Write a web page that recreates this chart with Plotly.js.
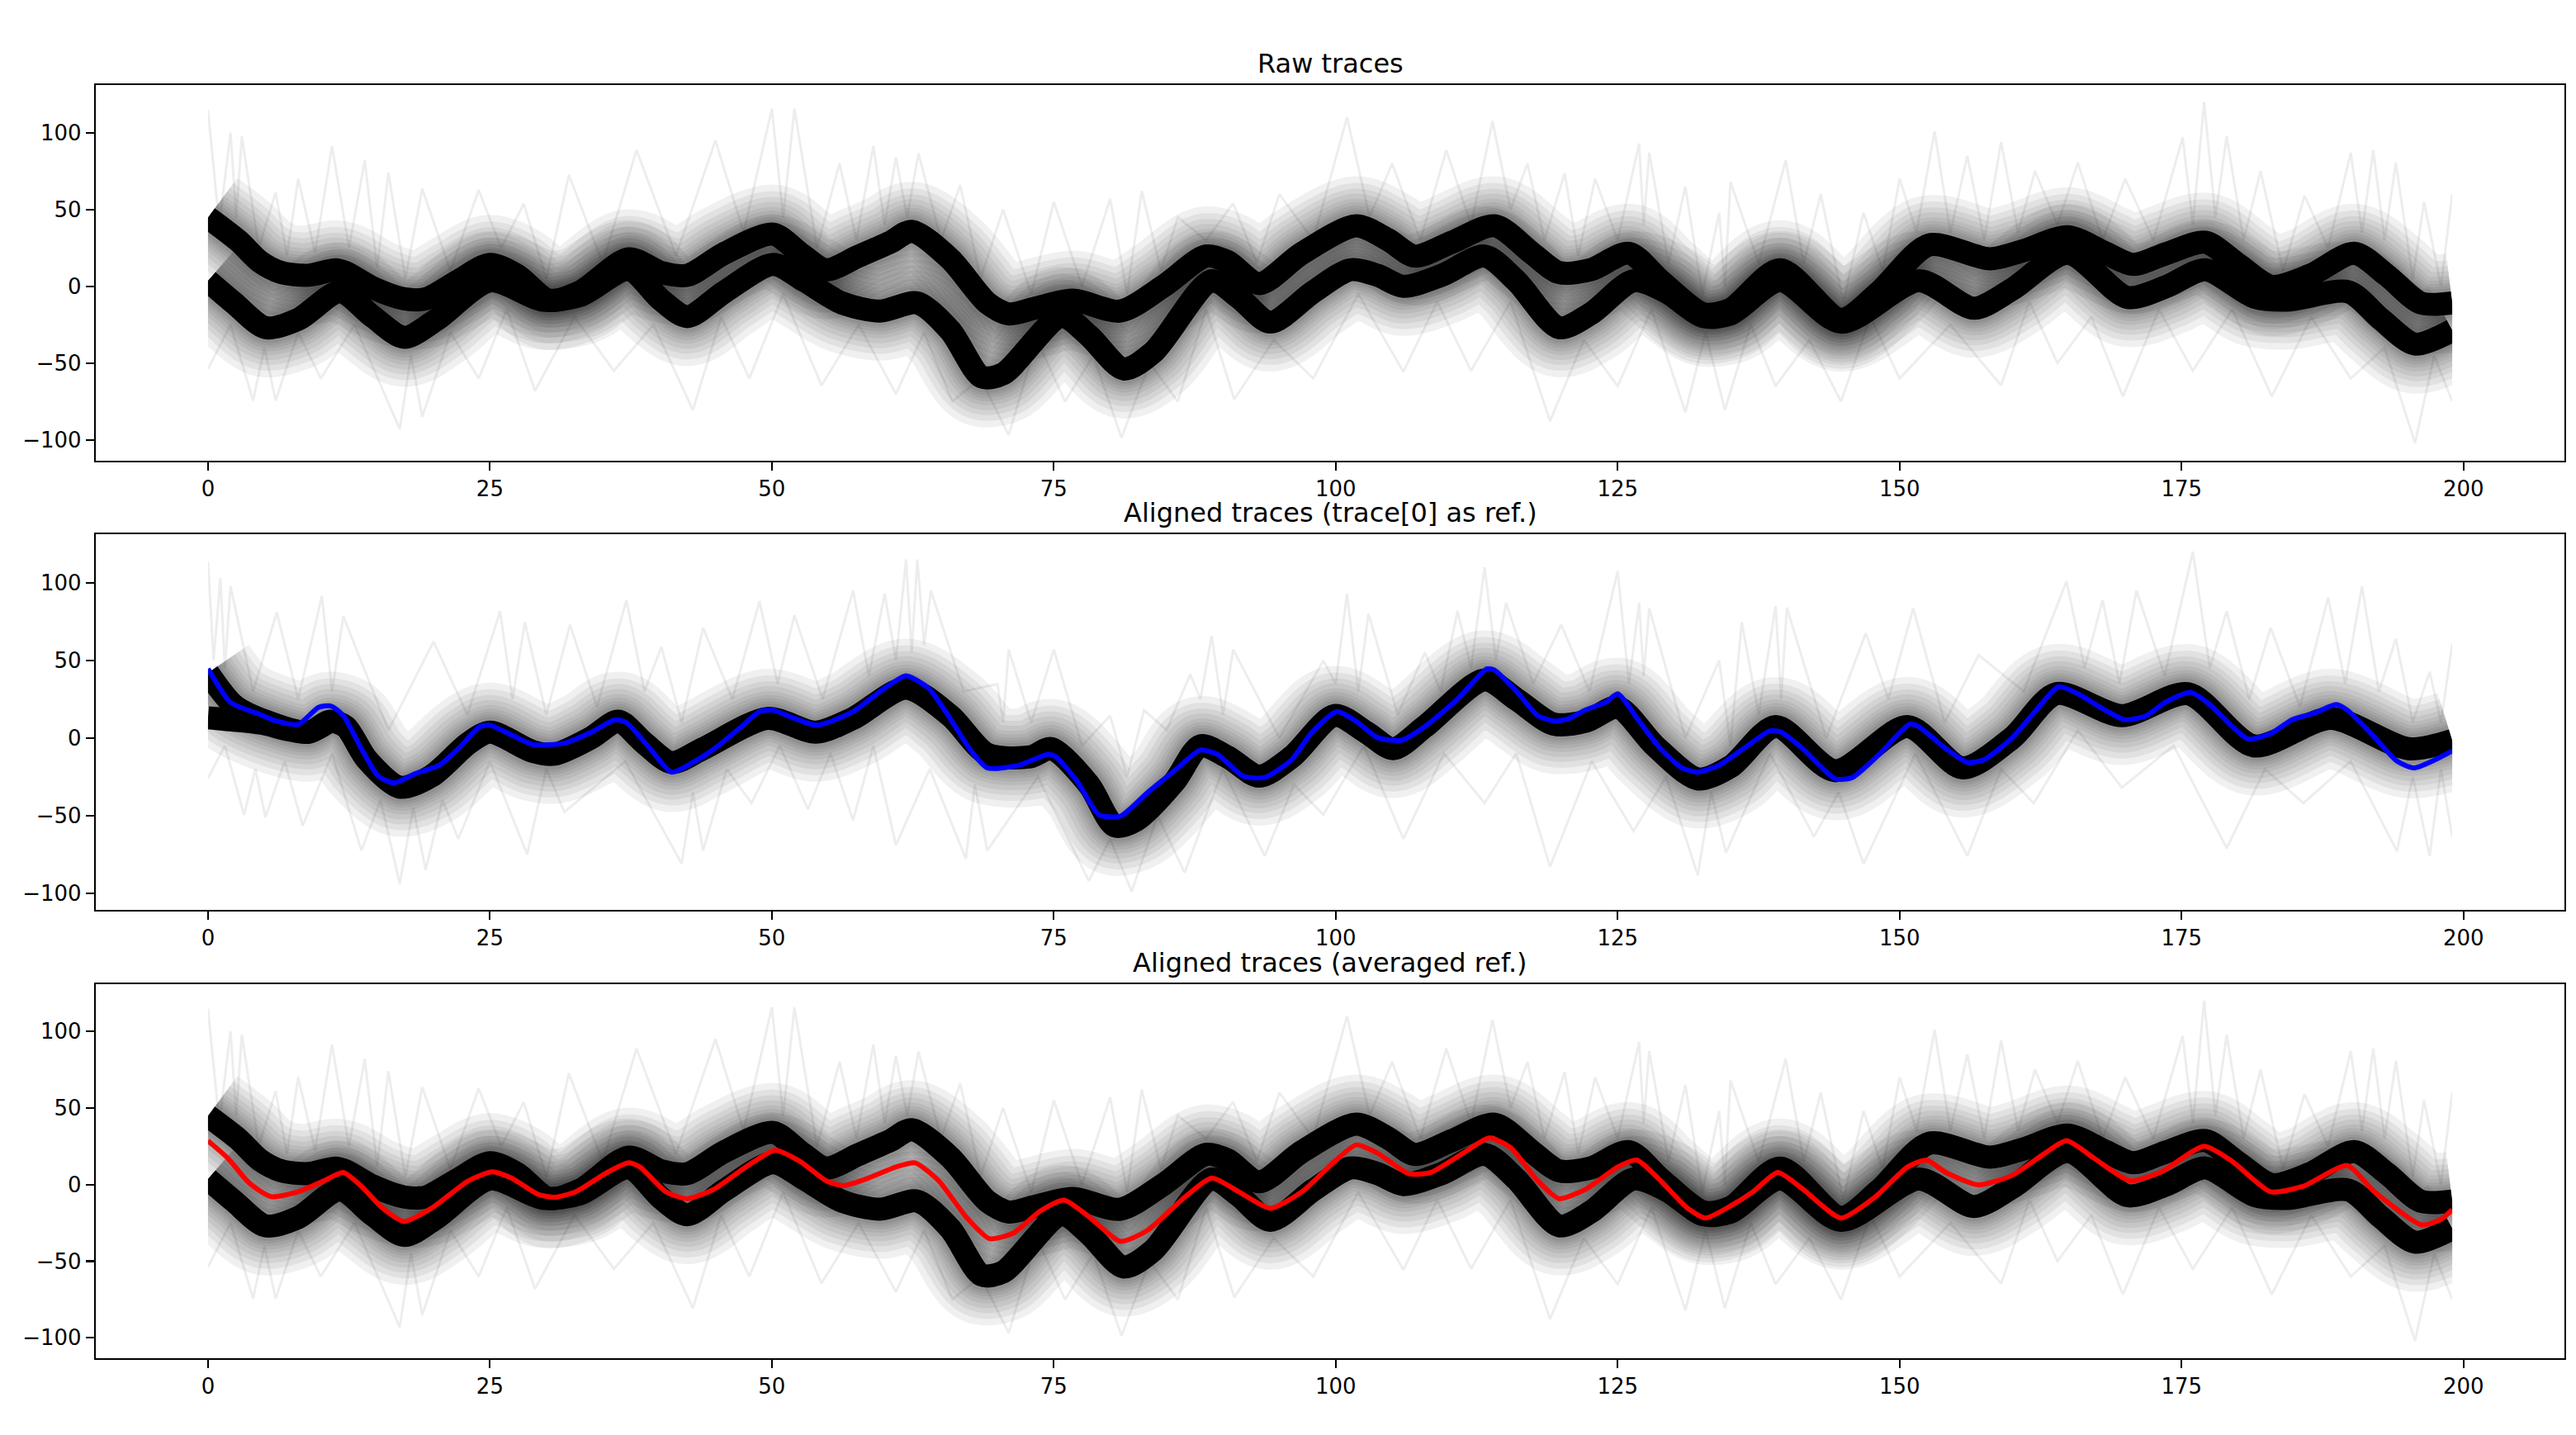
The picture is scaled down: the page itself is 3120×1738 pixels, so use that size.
<!DOCTYPE html>
<html>
<head>
<meta charset="utf-8">
<script src="https://cdn.plot.ly/plotly-3.0.1.min.js"></script>
<style>html,body{margin:0;padding:0;background:#fff}#plot{width:3120px;height:1738px}</style>
</head>
<body>
<div id="plot"></div>
<script>
// ---------- data ----------
const xTicks = [0, 25, 50, 75, 100, 125, 150, 175, 200];
const yTicks = [-100, -50, 0, 50, 100];
const panelTitles = ["Raw traces", "Aligned traces (trace[0] as ref.)", "Aligned traces (averaged ref.)"];

// upper cluster band (raw / averaged-ref panels)
const upperX = [0,2.7,4.6,6.5,8.9,11.3,12.2,14.6,17.4,19.3,22.2,25,27.4,30.2,33,37.3,40.2,42.5,45.8,50.1,52.5,54.8,57.7,60.5,62.4,65.8,69.1,71,73.3,76.7,80.9,84.7,88.5,90.4,93.2,97,101.8,104.6,107,110.3,114.1,117.4,119.8,122.6,126,128.8,132.6,135,139.4,144.8,148.2,152.6,158,161,164.9,168.3,170.7,173.7,177.1,180,183,186.4,190.3,193.2,196.2,199];
const upperY = [44.8,29.6,16.1,9.0,7.2,10.8,9,-0.9,-8.1,-8.1,3.6,14.3,7.2,-9,-3.6,17.9,9,7.2,21.5,34,21.5,10.8,19.7,28.7,35.8,17.9,-10.8,-17.9,-14.3,-9,-16.1,0,19.7,16.1,1.8,21.5,39.4,30.5,19.7,28.7,39.4,21.5,9,10.8,21.5,3.6,-17.9,-15,10.8,-21.5,-3.6,26.9,17.9,23.3,32.3,21.5,14.3,21.5,28.7,14.3,0,7.2,21.5,7.2,-10.8,-10.8];

// lower cluster band (raw / averaged-ref panels)
const lowerX = [0,2.3,5.1,8,11.7,14.6,17.4,20.3,25,29.7,33,37.3,40.2,42.5,45.8,50.1,52.9,56.2,59.6,62.9,65.8,68.6,70.5,75.7,78.1,81.2,83.8,89,91.4,94.2,98,101.3,103.7,106,109.4,113.2,116,119.8,122.6,126.4,129.3,132.6,135,139.4,144.8,151.7,156.6,160,164.9,170.2,173.7,177.1,181.5,184.4,189.8,192.7,195.7,199];
const lowerY = [3.6,-10.8,-26.9,-21.5,-3.6,-19.7,-33.2,-21.5,3.6,-9,-6,10.8,-9,-19.7,-3.6,14.3,3.6,-10.8,-16.1,-10.8,-28.7,-59,-57,-19.7,-32,-53.8,-43,3.6,-7.2,-23.3,-3.6,10.8,7.2,0,7.2,19.7,3.6,-26.9,-17.9,3.6,-3.6,-19.7,-18,3.6,-23.3,3.6,-14.3,-1.8,21.5,-7.2,0,10.8,-7.2,-9,-3.6,-21.5,-37.6,-28.7];

// aligned band (trace[0] as ref. panel)
const alignedX = [0,2.3,5.1,8.9,10.8,12.2,14.1,17,19.8,23.1,25,28.8,30.7,34,36.4,38.7,41.1,43.9,49.6,53.9,57.2,61.9,65.8,69.1,72.9,74.8,78.1,80.4,82.3,85.7,88,90.4,93.2,96.1,99.9,102.7,105.1,107.9,113.2,116,119.3,122.2,125,128.3,132.1,135,139,144.3,150.7,155.6,160,163.9,169.7,175.6,181.4,188.2,195.1,199];
const alignedY = [42,21,10.8,3.7,10.8,7.3,-14,-31.7,-24.6,-3.4,3.7,-8.7,-10.5,0.2,10.8,-3.4,-15.8,-6.9,12.6,3.7,12.6,32.1,14.4,-10.5,-12.2,-6.9,-30,-56.6,-53,-28.2,-5.1,-12.2,-24.6,-12.2,14.4,3.7,-6.9,7.3,37.4,25,9,10.8,19.7,-5.1,-26.4,-18.5,7.3,-21.1,7.3,-19.3,0.2,28.5,14.4,28.5,-5.1,12.6,-6.9,-1.6];
// second bundle visible only at the very start of the aligned panel, merging into the main band
const alignedStartX = [0, 1.5, 3, 5.1, 7, 8.9, 10.8];
const alignedStartY = [13, 12, 11, 9, 5.5, 3.7, 10.8];

// blue reference trace[0]
const refX = [0,2,4.6,6.1,8,9.8,10.9,12,13.6,15.1,16.5,18.4,20.5,22.2,24.1,25,26.9,28.8,31.6,34,36.1,37.1,39.2,41.1,43,44.9,47.3,48.9,50.1,52,53.9,55.3,57.2,60,61.9,63.9,65.8,67.7,69.1,71.9,74.5,75.2,77.1,79,80.9,83.3,85.7,88,89.5,91.8,93.7,96.1,97.9,100.1,101.8,103.7,105.8,107.9,110.8,113.4,114.1,116,117.9,119.5,120.7,122.1,124,125,126.9,128.8,130.7,132.1,134,136.5,138.5,139.5,141.4,144.3,145.8,148.2,150.9,151.7,154.1,156,157.5,160,161.9,164.1,165.8,167.8,170,171.9,173.6,175.8,177.5,179.5,180.9,182.9,184.8,186.8,188.7,189.7,191.7,194.1,195.6,197.5,199];
const refY = [44.5,22.9,15.2,10.8,8.7,19.7,20.6,14.4,-6.9,-24.6,-29,-22.9,-17.6,-6.9,7.3,8.2,2,-4.3,-3.4,3.7,11.7,9.9,-6.9,-22,-15.8,-6.9,7.3,17,17.9,12.6,8.2,10.8,17,32.1,40.1,32,12.6,-8.7,-19.3,-17.6,-10.5,-12.2,-28.2,-49.5,-50.4,-35.3,-21.1,-7.8,-10.5,-24.6,-25.5,-14,3.7,17,10.8,0.2,-1.6,7.3,25,44.5,43.6,30.3,14.4,10.8,12.6,17.9,23.2,28.5,10.8,-6.9,-19.3,-22,-17.6,-5.1,4.6,3.7,-6.9,-26.4,-25.5,-10.5,9,7.3,-6.9,-15.8,-14,0.2,16.1,33,28.5,19.7,11.7,14.4,23.2,29.4,21.5,7.3,-0.7,2.8,11.7,16.1,21.5,17.9,3.7,-14.9,-19.3,-14,-8.3];

// red averaged reference
const avgX = [0,1.8,3.7,5.6,8,10.3,12,13.6,15.5,17.4,19.8,23.1,25.2,26.9,29.3,30.7,32.6,35.4,37.3,38.3,40.6,42.5,44.9,47.7,50.3,52.5,54.8,56.3,58.6,61,62.7,64.8,67.2,69.3,71.4,73.8,75.9,78.1,80.9,83.3,86.6,89,91.4,94.2,97,99.9,101.8,103.7,106.5,108.4,111.3,113.6,115.5,117.9,119.8,122.2,125,126.7,128.8,131.2,132.8,135,137,139.2,141.4,144.8,147.8,150.7,152.4,154.1,157,160,162.9,164.8,167.3,170.4,173.1,177,179.5,182.9,185.8,189.7,192.1,196.3,198,199];
const avgY = [28.6,16.9,0.7,-7.9,-4.7,2.5,7.9,-1.1,-15.5,-24.1,-15.5,2.5,8.3,4.3,-6.5,-8.3,-4.7,7.9,14.2,11.5,-4.7,-9.2,-2.9,11.5,22.3,15.1,2.5,-0.7,4.3,11.5,14.2,2.5,-20.9,-35.3,-31.7,-17.3,-10.1,-20.9,-37.1,-29.9,-8.3,4.3,-4.7,-15.5,-4.7,15.1,25.9,20.5,7,7.9,20.5,30.4,24.1,2.5,-9.2,-2.9,11.5,16,2.5,-15.5,-21.8,-14,-4.7,7.9,-2.9,-21.8,-8.3,11.5,16,7.9,-0.2,6.1,20.5,28.6,16.9,2.5,7.9,25,15.1,-4.7,-1.1,12.4,-4.7,-26.3,-22.7,-16.4];

// faint noisy outliers, raw / averaged-ref panels: spike tips and the dips between them
const rawUpTipX = [0,2,3,6,8,11,13.9,16,19,24,28,32,38,45,50,52,56,59,61,63,66.7,70.5,75,80,82.8,86,90.9,95,101,105,109.8,113.9,117,120.3,123,126.9,127.8,131,134,135,139.9,143,146.8,150,153.1,156,159,162,165.8,170,175.1,177,179,182,185.9,190,192,194,196.5,199];
const rawUpTipY = [114.7,100,97.7,61,70,91.4,82,74,63.6,62.7,53.8,72.6,88.7,95,115.6,115.6,80,91.4,84,86.7,66,50,55,57,62,45,54,60,110,80,88.7,107.5,80,73.5,70,93,87,65,48,68,82,60,48,70,101,85,94,75,80.6,70,97,120,97.7,75,59,87,88.7,80.6,55,60];
const rawUpDipX = [1,2.5,4.5,7,9.5,12.5,15,17.5,21.5,26,30,35,41.5,47.5,51,54,57.5,60,62,65,68.5,73,77.5,81.5,84.5,88.5,93,98,103,107.5,112,115.5,118.5,121.5,125,127.3,129.5,132.5,134.5,137.5,141.5,145,148.5,151.5,154.5,157.5,160.5,164,168,172.5,176,178,180.5,184,188,191,193,195.5,198];
const rawUpDipY = [40,45,25,20,22,25,12,5,10,25,5,15,20,35,45,25,30,40,45,30,5,-5,0,-5,10,30,15,30,45,30,40,50,30,20,30,40,15,-5,0,15,15,-10,10,35,35,30,35,40,30,30,40,45,30,10,25,35,30,5,0];
const rawLoTipX = [0,4,6,10,17,19,24,29,36,43,48,54.4,61,66,71,76,81,86,91,98,106,112,119,125,131,134.5,139,144.8,150,159,164,169.8,176,183,190,195.7,199];
const rawLoTipY = [-53.8,-74.4,-74.4,-60,-93,-85,-60,-68,-55,-80.6,-60,-64.5,-70,-75,-96.8,-75,-98.6,-75,-73.5,-60,-55.6,-55,-87.8,-65,-82,-80.6,-65,-75,-60,-64.5,-50,-71.7,-55,-71.7,-60,-102,-75];
const rawLoDipX = [2,5,8,13,18,21.5,26.5,32.5,39.5,45.5,51,57.7,63.5,68.5,73.5,78.5,83.5,88.5,94.5,102,109,115.5,122,128,132.8,136.8,142,147.4,154.5,161.5,167,173,179.5,186.5,193,197.4];
const rawLoDipY = [-25,-40,-30,-25,-45,-30,-15,-20,-25,-20,-5,-25,-30,-60,-35,-45,-50,-15,-35,-5,-10,-10,-35,-15,-30,-25,-35,-20,-25,-10,-20,-15,-15,-20,-40,-45];

// faint noisy outliers, trace[0]-ref panel
const alUpTipX = [0,1.1,2,6.1,10.1,12,20,25.9,28.1,32.1,37.1,40.2,43.9,48.9,52,57.2,60,61.9,62.9,64.1,70,71,75,80,83,87.1,89,90.9,98.9,101,102.9,107.9,110.8,113.2,115.1,120,125,126.9,127.8,134,136,139,140,147,151.2,157,164.8,168,171,176,179,182.9,188,191,194,197,199];
const alUpTipY = [113.7,103,97.7,80.9,91.5,78.4,62,81.7,74.6,72.9,88.8,58.7,71,88,79,95,93,115,115,95,34.7,57,57,14.4,17.9,41,65.8,57,49.8,93,80,55,81.7,110,87,72.9,107.4,87,83.5,50,74.6,85,84,67.5,83.5,53.4,101,88.8,95,120,81.7,71,90.6,97.7,64,42.7,60.5];
const alUpDipX = [0.5,1.5,4,8,11,16,23,27,30,34.5,38.7,42,46.5,50.5,54.5,58.6,61,62.4,63.5,67,70.5,73,77.5,81.5,85,88,90,95,100,102,105.5,109.3,112,114.2,117.5,122.5,126,127.3,131,135,137.5,139.5,143.5,149,154,161,166.4,169.5,173.5,177.5,181,185.5,189.5,192.5,195.5,198];
const alUpDipY = [50,45,30,25,30,5,15,25,15,20,30,10,25,35,25,40,50,55,60,30,10,10,-5,-25,5,25,15,0,35,30,15,30,45,50,35,30,35,40,0,-5,15,25,0,25,10,30,45,35,40,45,25,20,35,30,10,10];
const alLoTipX = [0,3.2,5.1,8.4,13.6,17,19.3,22.2,28.3,31.6,42,43.9,48.2,53.2,57.2,61,67.2,69.1,78.1,81.9,86.6,93.7,98.9,106,113.2,119,126.4,132.1,134.6,142.4,146.8,156,161.9,169.7,179,185.8,194.1,197,199];
const alLoTipY = [-26,-49.5,-51,-56.6,-72.5,-93.8,-85,-65,-75,-47.7,-81,-72.5,-42,-46,-53,-69,-77.8,-72.5,-92,-99,-86.7,-76,-49.5,-65,-42,-83,-60,-88.5,-74,-63.6,-81,-76,-42,-32,-71,-42,-73,-76,-63.6];
const alLoDipX = [1.5,4.2,6.8,11,15.3,18.2,20.8,25,30,37,43,46,50.7,55.2,59,64,68,73.6,80,84.2,90,96.3,102.5,109.6,116,122.7,129.3,133.3,138.5,144.6,151.4,159,165.8,174.3,182.4,190,195.5,198];
const alLoDipY = [-5,-20,-15,-10,-40,-45,-40,-15,-20,-15,-35,-20,-5,-10,-5,-20,-30,-25,-65,-50,-20,-30,-5,-10,-10,-15,-25,-35,-10,-35,-10,-20,5,-5,-20,-15,-25,-20];

// ---------- drawing ----------
const FONT = "DejaVu Sans";
const traces = [];
function merge(ax, ay, bx, by) {
  const pts = ax.map(function (v, i) { return [v, ay[i]]; })
    .concat(bx.map(function (v, i) { return [v, by[i]]; }));
  pts.sort(function (p, q) { return p[0] - q[0]; });
  return [pts.map(function (p) { return p[0]; }), pts.map(function (p) { return p[1]; })];
}
function faint(m, xa, ya) {
  traces.push({x: m[0], y: m[1], xaxis: xa, yaxis: ya, type: "scatter", mode: "lines",
    line: {color: "rgba(0,0,0,0.07)", width: 3, shape: "linear"}, hoverinfo: "skip", showlegend: false});
}
function band(x, y, xa, ya, halo) {
  const widths = halo ? [120, 104, 90, 78, 66, 57, 49, 42, 36] : [];
  widths.forEach(function (w) {
    traces.push({x: x, y: y, xaxis: xa, yaxis: ya, type: "scatter", mode: "lines",
      line: {color: "rgba(0,0,0,0.06)", width: w, shape: "spline", smoothing: 0.8},
      hoverinfo: "skip", showlegend: false});
  });
  traces.push({x: x, y: y, xaxis: xa, yaxis: ya, type: "scatter", mode: "lines",
    line: {color: "rgba(0,0,0,1)", width: 28, shape: "spline", smoothing: 0.8},
    hoverinfo: "skip", showlegend: false});
}
function line(x, y, xa, ya, color) {
  traces.push({x: x, y: y, xaxis: xa, yaxis: ya, type: "scatter", mode: "lines",
    line: {color: color, width: 6, shape: "spline", smoothing: 0.6}, hoverinfo: "skip", showlegend: false});
}

const rawUp = merge(rawUpTipX, rawUpTipY, rawUpDipX, rawUpDipY);
const rawLo = merge(rawLoTipX, rawLoTipY, rawLoDipX, rawLoDipY);
const alUp = merge(alUpTipX, alUpTipY, alUpDipX, alUpDipY);
const alLo = merge(alLoTipX, alLoTipY, alLoDipX, alLoDipY);

// panel 1: raw
faint(rawUp, "x", "y"); faint(rawLo, "x", "y");
band(upperX, upperY, "x", "y", true); band(lowerX, lowerY, "x", "y", true);
// panel 2: aligned to trace[0]
faint(alUp, "x2", "y2"); faint(alLo, "x2", "y2");
band(alignedX, alignedY, "x2", "y2", true);
band(alignedStartX, alignedStartY, "x2", "y2", false);
line(refX, refY, "x2", "y2", "#0000ff");
// panel 3: aligned to averaged ref
faint(rawUp, "x3", "y3"); faint(rawLo, "x3", "y3");
band(upperX, upperY, "x3", "y3", true); band(lowerX, lowerY, "x3", "y3", true);
line(avgX, avgY, "x3", "y3", "#ff0000");

const W = 3120, H = 1738;
const xRange = [-9.95, 208.95];
const xDom = [116 / W, 3106 / W];
const yDoms = [
  [1 - 557.7 / H, 1 - 103.3 / H],
  [1 - 1101.7 / H, 1 - 647.3 / H],
  [1 - 1645 / H, 1 - 1191.7 / H]
];
const yRanges = [[-113.4, 130.9], [-110.6, 131.1], [-113.3, 130.9]];

function xaxis(anchor) {
  return {domain: xDom, anchor: anchor, range: xRange, tickmode: "array", tickvals: xTicks,
    ticktext: xTicks.map(String), showline: true, linecolor: "black", linewidth: 2.2, mirror: true,
    ticks: "outside", ticklen: 10, tickwidth: 2.2, tickcolor: "black", showgrid: false, zeroline: false,
    tickfont: {family: FONT, size: 26, color: "black"}, fixedrange: true};
}
function yaxis(anchor, i) {
  return {domain: yDoms[i], anchor: anchor, range: yRanges[i], tickmode: "array", tickvals: yTicks,
    ticktext: yTicks.map(function (v) { return v < 0 ? "\u2212" + Math.abs(v) : String(v); }),
    showline: true, linecolor: "black", linewidth: 2.2, mirror: true,
    ticks: "outside", ticklen: 10, tickwidth: 2.2, tickcolor: "black", showgrid: false, zeroline: false,
    tickfont: {family: FONT, size: 26, color: "black"}, fixedrange: true};
}

// white masks that square off the thick line ends at the first / last sample
const shapes = [];
["", "2", "3"].forEach(function (s, i) {
  const yr = yRanges[i];
  [[xRange[0] + 0.15, 0], [199, xRange[1] - 0.15]].forEach(function (xs) {
    shapes.push({type: "rect", xref: "x" + s, yref: "y" + s, x0: xs[0], x1: xs[1],
      y0: yr[0] + 0.8, y1: yr[1] - 0.8, fillcolor: "white", line: {width: 0}, layer: "above"});
  });
});

const layout = {
  width: W, height: H, margin: {l: 0, r: 0, t: 0, b: 0}, paper_bgcolor: "white", plot_bgcolor: "white",
  showlegend: false, font: {family: FONT, color: "black"},
  xaxis: xaxis("y"), yaxis: yaxis("x", 0),
  xaxis2: xaxis("y2"), yaxis2: yaxis("x2", 1),
  xaxis3: xaxis("y3"), yaxis3: yaxis("x3", 2),
  shapes: shapes,
  annotations: panelTitles.map(function (t, i) {
    return {text: t, xref: "paper", yref: "paper", x: (xDom[0] + xDom[1]) / 2, y: yDoms[i][1],
      xanchor: "center", yanchor: "bottom", yshift: 6, borderpad: 0, showarrow: false,
      font: {family: FONT, size: 32, color: "black"}};
  })
};

Plotly.newPlot("plot", traces, layout, {staticPlot: true, displayModeBar: false});
</script>
</body>
</html>
